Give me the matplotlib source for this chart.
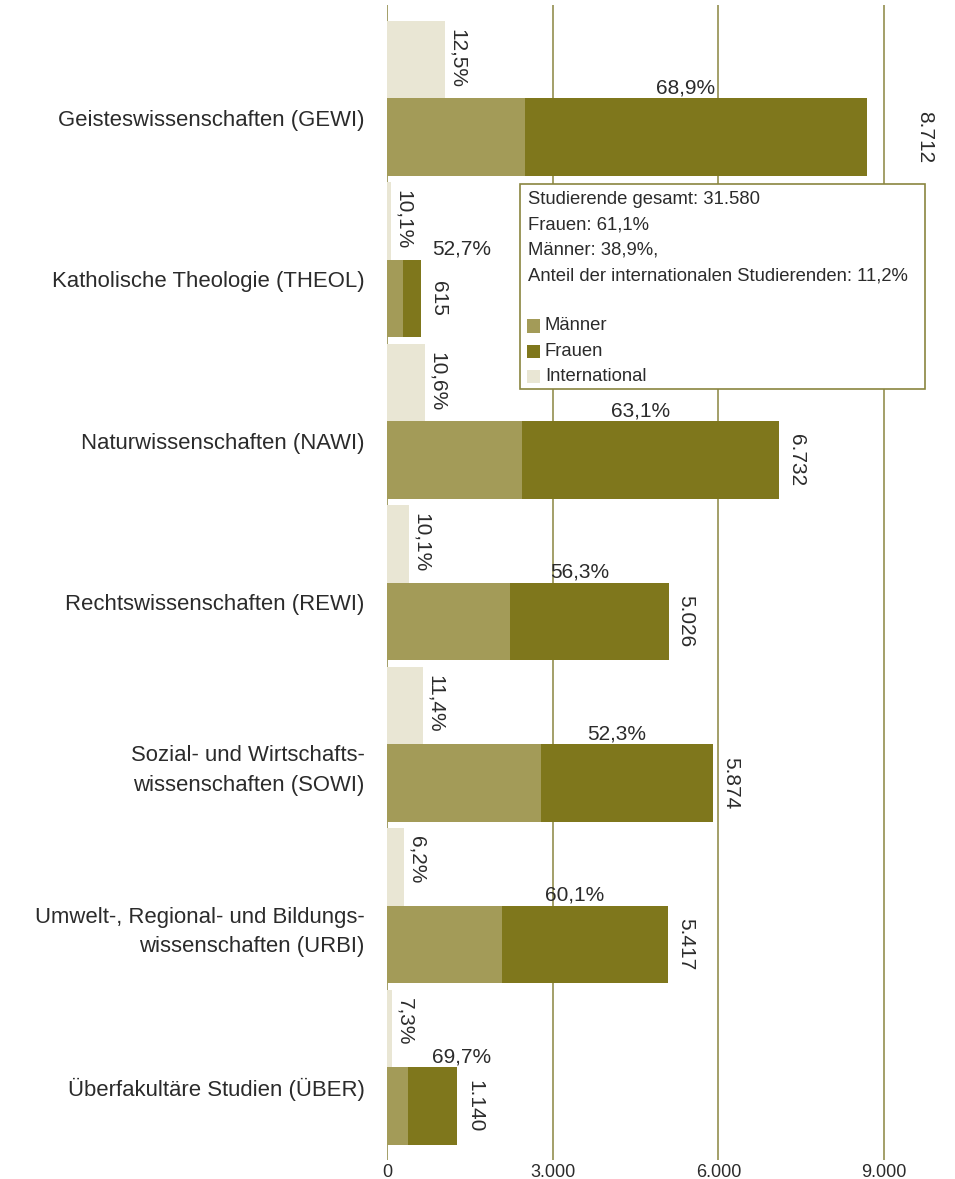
import matplotlib
matplotlib.use("Agg")
import matplotlib.pyplot as plt
from matplotlib.patches import Rectangle
import numpy as np

plt.rcParams['font.family'] = ['Liberation Sans', 'DejaVu Sans']

# categories and values (bar lengths, labels as printed)
categories = ["Geisteswissenschaften (GEWI)",
              "Katholische Theologie (THEOL)",
              "Naturwissenschaften (NAWI)",
              "Rechtswissenschaften (REWI)",
              "Sozial- und Wirtschafts-\nwissenschaften (SOWI)",
              "Umwelt-, Regional- und Bildungs-\nwissenschaften (URBI)",
              "Überfakultäre Studien (ÜBER)"]
maenner = [2500, 284, 2445, 2227, 2789, 2083, 380]
gesamt_bar = [8687, 610, 7099, 5100, 5904, 5083, 1268]
international = [1045, 78, 683, 398, 646, 308, 90]

total_labels = ["8.712", "615", "6.732", "5.026", "5.874", "5.417", "1.140"]
frauen_labels = ["68,9%", "52,7%", "63,1%", "56,3%", "52,3%", "60,1%", "69,7%"]
intl_labels = ["12,5%", "10,1%", "10,6%", "10,1%", "11,4%", "6,2%", "7,3%"]

xticks = [0, 3000, 6000, 9000]
xtick_labels = ["0", "3.000", "6.000", "9.000"]

info_lines = ["Studierende gesamt: 31.580",
              "Frauen: 61,1%",
              "Männer: 38,9%,",
              "Anteil der internationalen Studierenden: 11,2%"]
legend_labels = ["Männer", "Frauen", "International"]

c_m = '#a39b58'
c_f = '#7f771c'
c_i = '#e9e6d4'
c_grid = '#8a8540'
c_text = '#2b2b2b'
legend_colors = [c_m, c_f, c_i]

frauen = np.array(gesamt_bar) - np.array(maenner)
y = np.arange(len(categories))
h = 0.48

W, H = 955, 1179
fig = plt.figure(figsize=(W / 100, H / 100), dpi=100)
ax = fig.add_axes([387 / W, 1 - 1160 / H, (939.2 - 387) / W, (1160 - 5) / H])

for xv in xticks:
    ax.axvline(xv, color=c_grid, lw=1.1, zorder=0)

ax.barh(y, maenner, height=h, color=c_m, zorder=2)
ax.barh(y, frauen, height=h, left=maenner, color=c_f, zorder=2)
ax.barh(y - h, international, height=h, color=c_i, zorder=2)

ax.set_xlim(0, 10000)
ax.set_ylim(6.334, -0.817)

px = 10000 / (939.2 - 387)  # data units per pixel

for i in range(len(categories)):
    # international share
    ax.text(international[i] + 3 * px, i - 1.5 * h + 0.05, intl_labels[i],
            rotation=270, ha='left', va='top', fontsize=15, color=c_text)
    # women share
    xc = max((maenner[i] + gesamt_bar[i]) / 2 - 10 * px, 1350)
    ax.text(xc, i - h / 2 - 0.005, frauen_labels[i], ha='center', va='bottom',
            fontsize=15, color=c_text)
    # total
    xt = gesamt_bar[i] + 8 * px
    if xt < 9000 < xt + 22 * px:
        xt = 9000 + 31 * px
    ax.text(xt, i, total_labels[i], rotation=270, ha='left', va='center',
            fontsize=15, color=c_text)

ax.set_xticks(xticks)
ax.set_xticklabels(xtick_labels, fontsize=13, color=c_text)
ax.set_yticks(y - 0.12)
ax.set_yticklabels(categories, fontsize=15.9, color=c_text)
for t in ax.get_yticklabels():
    t.set_linespacing(1.55)
ax.tick_params(length=0)
ax.tick_params(axis='x', pad=3)
ax.tick_params(axis='y', pad=16)
for s in ax.spines.values():
    s.set_visible(False)

# info box with legend (figure pixel layout)
def fy(p):
    return 1 - p / H

fig.patches.append(Rectangle((520 / W, fy(389)), 405 / W, 205 / H,
                             transform=fig.transFigure, facecolor='white',
                             edgecolor=c_grid, lw=1.2, zorder=5))
row = 25.2
for k, line in enumerate(info_lines):
    fig.text(528 / W, fy(200 + k * row), line, ha='left', va='center',
             fontsize=13.3, color=c_text, zorder=6)
for k, (lab, col) in enumerate(zip(legend_labels, legend_colors)):
    yc = 326 + k * row
    fig.patches.append(Rectangle((527 / W, fy(yc + 6.5)), 13 / W, 13 / H,
                                 transform=fig.transFigure, facecolor=col,
                                 edgecolor='none', zorder=6))
    fig.text(545 / W, fy(yc), lab, ha='left', va='center',
             fontsize=13.3, color=c_text, zorder=6)

plt.savefig("out.png", dpi=100)
